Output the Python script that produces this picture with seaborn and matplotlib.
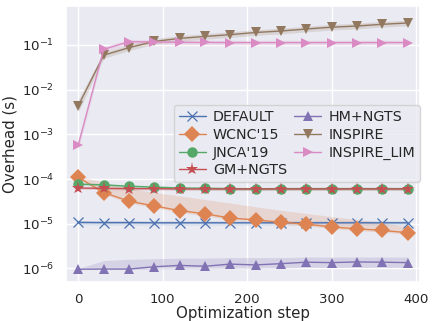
import numpy as np
import pandas as pd
import seaborn as sns
import matplotlib
matplotlib.use("Agg")
import matplotlib.pyplot as plt

steps = [0, 30, 60, 90, 120, 150, 180, 210, 240, 270, 300, 330, 360, 390]

default_mean = [1.07e-5, 1.06e-5, 1.06e-5, 1.05e-5, 1.05e-5, 1.05e-5, 1.05e-5, 1.05e-5, 1.05e-5, 1.05e-5, 1.05e-5, 1.05e-5, 1.05e-5, 1.05e-5]
default_lo = [0.95e-5, 0.94e-5, 0.94e-5, 0.94e-5, 0.94e-5, 0.94e-5, 0.94e-5, 0.94e-5, 0.94e-5, 0.94e-5, 0.94e-5, 0.94e-5, 0.94e-5, 0.94e-5]
default_hi = [1.18e-5, 1.17e-5, 1.17e-5, 1.16e-5, 1.16e-5, 1.16e-5, 1.16e-5, 1.16e-5, 1.16e-5, 1.16e-5, 1.16e-5, 1.16e-5, 1.16e-5, 1.16e-5]

wcnc_mean = [1.09e-4, 5.0e-5, 3.2e-5, 2.5e-5, 1.97e-5, 1.67e-5, 1.34e-5, 1.22e-5, 1.08e-5, 9.8e-6, 8.5e-6, 7.7e-6, 7.1e-6, 6.3e-6]
wcnc_lo = [1.0e-4, 4.6e-5, 2.9e-5, 2.3e-5, 1.8e-5, 1.5e-5, 1.22e-5, 1.1e-5, 9.8e-6, 8.9e-6, 7.8e-6, 7.0e-6, 6.5e-6, 5.8e-6]
wcnc_hi = [1.15e-4, 8.5e-5, 6.2e-5, 5.0e-5, 4.2e-5, 3.5e-5, 2.9e-5, 2.4e-5, 2.0e-5, 1.7e-5, 1.45e-5, 1.25e-5, 1.05e-5, 8.5e-6]

jnca_mean = [7.7e-5, 7.4e-5, 6.9e-5, 6.6e-5, 6.3e-5, 6.2e-5, 6.1e-5, 6.0e-5, 6.1e-5, 6.1e-5, 6.1e-5, 6.1e-5, 6.1e-5, 6.1e-5]
jnca_lo = [7.2e-5, 6.9e-5, 6.4e-5, 6.1e-5, 5.8e-5, 5.7e-5, 5.6e-5, 5.5e-5, 5.6e-5, 5.6e-5, 5.6e-5, 5.6e-5, 5.6e-5, 5.6e-5]
jnca_hi = [8.2e-5, 7.9e-5, 7.4e-5, 7.1e-5, 6.8e-5, 6.7e-5, 6.6e-5, 6.5e-5, 6.6e-5, 6.6e-5, 6.6e-5, 6.6e-5, 6.6e-5, 6.6e-5]

gm_mean = [6.3e-5, 6.2e-5, 6.1e-5, 6.1e-5, 6.0e-5, 6.0e-5, 6.0e-5, 6.0e-5, 6.0e-5, 6.0e-5, 6.0e-5, 6.0e-5, 6.0e-5, 6.0e-5]
gm_lo = [5.9e-5, 5.8e-5, 5.7e-5, 5.7e-5, 5.6e-5, 5.6e-5, 5.6e-5, 5.6e-5, 5.6e-5, 5.6e-5, 5.6e-5, 5.6e-5, 5.6e-5, 5.6e-5]
gm_hi = [6.7e-5, 6.6e-5, 6.5e-5, 6.5e-5, 6.4e-5, 6.4e-5, 6.4e-5, 6.4e-5, 6.4e-5, 6.4e-5, 6.4e-5, 6.4e-5, 6.4e-5, 6.4e-5]

hm_mean = [0.96e-6, 0.97e-6, 0.97e-6, 1.09e-6, 1.17e-6, 1.12e-6, 1.25e-6, 1.2e-6, 1.28e-6, 1.38e-6, 1.35e-6, 1.4e-6, 1.38e-6, 1.35e-6]
hm_lo = [0.95e-6, 0.95e-6, 0.95e-6, 0.97e-6, 0.98e-6, 0.98e-6, 1.0e-6, 1.0e-6, 1.02e-6, 1.05e-6, 1.05e-6, 1.05e-6, 1.05e-6, 1.05e-6]
hm_hi = [1.0e-6, 1.5e-6, 1.6e-6, 1.65e-6, 1.7e-6, 1.7e-6, 1.75e-6, 1.75e-6, 1.75e-6, 1.8e-6, 1.8e-6, 1.8e-6, 1.8e-6, 1.8e-6]

inspire_mean = [4.4e-3, 0.059, 0.087, 0.12, 0.14, 0.155, 0.17, 0.19, 0.205, 0.227, 0.25, 0.265, 0.29, 0.31]
inspire_lo = [3.2e-3, 0.050, 0.075, 0.104, 0.121, 0.134, 0.147, 0.164, 0.177, 0.196, 0.216, 0.229, 0.251, 0.268]
inspire_hi = [6.0e-3, 0.069, 0.101, 0.139, 0.162, 0.179, 0.197, 0.22, 0.237, 0.262, 0.289, 0.306, 0.335, 0.358]

lim_mean = [5.9e-4, 0.08, 0.118, 0.117, 0.114, 0.114, 0.113, 0.113, 0.113, 0.113, 0.113, 0.113, 0.113, 0.113]
lim_lo = [4.5e-4, 0.07, 0.104, 0.104, 0.101, 0.101, 0.1, 0.1, 0.1, 0.1, 0.1, 0.1, 0.1, 0.1]
lim_hi = [7.5e-4, 0.092, 0.133, 0.131, 0.128, 0.128, 0.127, 0.127, 0.127, 0.127, 0.127, 0.127, 0.127, 0.127]

y_ticks = [1e-6, 1e-5, 1e-4, 1e-3, 1e-2, 1e-1]
x_ticks = [0, 100, 200, 300, 400]

SERIES = [
    ("DEFAULT", default_mean, default_lo, default_hi, "x"),
    ("WCNC'15", wcnc_mean, wcnc_lo, wcnc_hi, "D"),
    ("JNCA'19", jnca_mean, jnca_lo, jnca_hi, "o"),
    ("GM+NGTS", gm_mean, gm_lo, gm_hi, "*"),
    ("HM+NGTS", hm_mean, hm_lo, hm_hi, "^"),
    ("INSPIRE", inspire_mean, inspire_lo, inspire_hi, "v"),
    ("INSPIRE_LIM", lim_mean, lim_lo, lim_hi, ">"),
]

sns.set_theme(style="darkgrid")
colors = sns.color_palette("deep", len(SERIES))

fig, ax = plt.subplots(1, 1, figsize=(4.35, 3.21), dpi=100)

for (name, mean, lo, hi, marker), color in zip(SERIES, colors):
    df = pd.DataFrame({"step": steps, "overhead": mean})
    sns.lineplot(
        data=df,
        x="step",
        y="overhead",
        color=color,
        marker=marker,
        markersize={"x": 7.5, "D": 8, "o": 7.5, "*": 9.5}.get(marker, 7.5),
        markeredgewidth=0.9 if marker == "x" else 0,
        markeredgecolor=color,
        linewidth=1.0,
        label=name,
        ax=ax,
    )
    ax.fill_between(steps, lo, hi, color=color, alpha=0.2, linewidth=0)

ax.set_yscale("log")
ax.set_yticks(y_ticks)
ax.minorticks_off()
ax.set_ylim(5.1e-7, 0.74)
ax.set_xlim(-15, 405)
ax.set_xticks(x_ticks)
ax.set_xlabel("Optimization step", fontsize=10.8, labelpad=0)
ax.set_ylabel("Overhead (s)", fontsize=10.8, labelpad=3)
ax.tick_params(labelsize=9.6, pad=2.5)
ax.legend(loc="center right", ncol=2, fontsize=10.3, handlelength=1.9,
          columnspacing=0.5, labelspacing=0.25, borderaxespad=0.0,
          handletextpad=0.5, borderpad=0.35)
fig.subplots_adjust(left=0.151, right=0.966, top=0.981, bottom=0.123)
plt.savefig("out.png", dpi=100)
